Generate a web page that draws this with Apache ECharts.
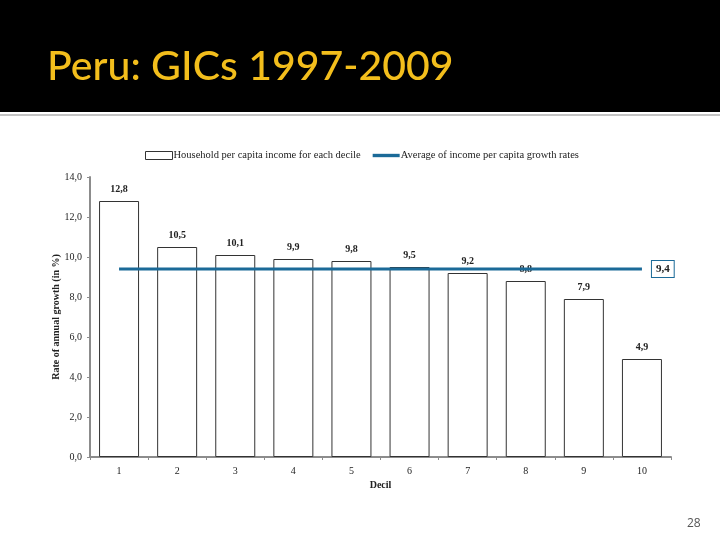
<!DOCTYPE html>
<html>
<head>
<meta charset="utf-8">
<script src="https://cdn.jsdelivr.net/npm/echarts@6/dist/echarts.min.js"></script>
<style>
  html, body { margin: 0; padding: 0; background: #fff; }
  #chart { width: 720px; height: 540px; }
</style>
</head>
<body>
<div id="chart"></div>
<script>
// ── data ──
var deciles = ["1", "2", "3", "4", "5", "6", "7", "8", "9", "10"];
var growthRates = [12.8, 10.5, 10.1, 9.9, 9.8, 9.5, 9.2, 8.8, 7.9, 4.9];
var averageRate = 9.4;
var yTicks = [0, 14, 2]; // min, max, step

var SERIF = "Liberation Serif";
var BAR_NAME = "Household per capita income for each decile";
var LINE_NAME = "Average of income per capita growth rates";
function comma(v) { return Number(v).toFixed(1).replace(".", ","); }

var chart = echarts.init(document.getElementById("chart"));

chart.setOption({
    animation: false,
    backgroundColor: "#fff",
    graphic: [
        { type: "rect", left: 0, top: 0, shape: { width: 720, height: 112 }, style: { fill: "#000" }, z: 0 },
        { type: "rect", left: 0, top: 114, shape: { width: 720, height: 2 }, style: { fill: "#c4c4c4" }, z: 0 },
        { type: "text", left: 687, top: 518,
          style: { text: "28", fill: "#555", font: "12px 'Open Sans'" } },
    ],
    title: {
        text: "Peru: GICs 1997-2009",
        left: 42, top: 41,
        textStyle: { color: "#f3be1c", fontFamily: "Lato", fontSize: 41, fontWeight: 500 },
    },
    legend: {
        top: 145, left: 140,
        itemWidth: 27, itemHeight: 8, itemGap: 12,
        textStyle: { fontFamily: SERIF, fontSize: 10.5, color: "#222", padding: [0, 0, 0, -4] },
        data: [
            { name: BAR_NAME, icon: "rect", itemStyle: { color: "#fff", borderColor: "#333", borderWidth: 1 } },
            { name: LINE_NAME, icon: "path://M0,0H24V3H0Z", itemStyle: { color: "#1b6a98", borderWidth: 0 } },
        ],
    },
    grid: { left: 90, right: 49, top: 177, bottom: 83 },
    xAxis: {
        type: "category", data: deciles,
        name: "Decil", nameLocation: "middle", nameGap: 23,
        nameTextStyle: { fontFamily: SERIF, fontSize: 10, fontWeight: "bold", color: "#222" },
        axisLine: { lineStyle: { color: "#8c8c8c", width: 2 } },
        axisTick: { show: true, length: 3, lineStyle: { color: "#8c8c8c" } },
        axisLabel: { fontFamily: SERIF, fontSize: 10, color: "#222", margin: 9 },
    },
    yAxis: {
        type: "value", min: yTicks[0], max: yTicks[1], interval: yTicks[2],
        name: "Rate of annual growth (in %)", nameLocation: "middle", nameGap: 29,
        nameMoveOverlap: false,
        nameTextStyle: { fontFamily: SERIF, fontSize: 10, fontWeight: "bold", color: "#222" },
        axisLine: { show: true, lineStyle: { color: "#8c8c8c", width: 2 } },
        axisTick: { show: true, length: 3, lineStyle: { color: "#8c8c8c" } },
        axisLabel: { fontFamily: SERIF, fontSize: 10, color: "#222", margin: 8, formatter: comma },
        splitLine: { show: false },
    },
    series: [
        {
            name: BAR_NAME,
            type: "bar", data: growthRates, barWidth: 40,
            itemStyle: { color: "#fff", borderColor: "#333", borderWidth: 1 },
            label: {
                show: true, position: "top", distance: 7,
                fontFamily: SERIF, fontSize: 10, fontWeight: "bold", color: "#222",
                formatter: function(p) { return comma(p.value); },
            },
            z: 2,
        },
        {
            name: LINE_NAME,
            type: "line", data: deciles.map(function() { return averageRate; }),
            symbol: "none",
            lineStyle: { color: "#1b6a98", width: 3 },
            itemStyle: { color: "#1b6a98" },
            endLabel: {
                show: true, distance: 10,
                formatter: function() { return comma(averageRate); },
                fontFamily: SERIF, fontSize: 11, fontWeight: "bold", color: "#222",
                borderColor: "#1b6a98", borderWidth: 1, padding: [3, 4, 2, 4],
                backgroundColor: "#fff",
            },
            z: 3,
        },
    ],
});
</script>
</body>
</html>
